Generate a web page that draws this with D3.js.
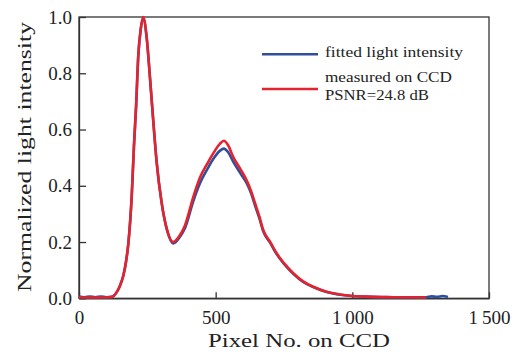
<!DOCTYPE html>
<html>
<head>
<meta charset="utf-8">
<script src="https://cdn.jsdelivr.net/npm/d3@7"></script>
<style>
html,body{margin:0;padding:0;background:#fff;}
svg text{font-family:"Liberation Serif","DejaVu Serif",serif;fill:#222;}
</style>
</head>
<body>
<svg id="chart" width="520" height="354"></svg>
<script>
// ---- data ----
const xTicks = [0, 500, 1000, 1500];
const xTickLabels = ["0", "500", "1\u2009000", "1\u2009500"];
const yTicks = [0, 0.2, 0.4, 0.6, 0.8, 1.0];
const yTickLabels = ["0.0", "0.2", "0.4", "0.6", "0.8", "1.0"];

const measuredX = [0, 40, 80, 110, 120, 138, 150, 162, 172, 180, 193, 201, 209, 217, 226, 235, 248, 260, 272, 284, 302, 321, 345, 369, 388, 418, 443, 470, 491, 516, 530, 545, 564, 590, 613, 630, 644, 660, 674, 700, 723, 750, 784, 820, 857, 900, 930, 991, 1050, 1150, 1270];
const measuredY = [0.004, 0.003, 0.003, 0.004, 0.005, 0.022, 0.045, 0.08, 0.13, 0.19, 0.366, 0.54, 0.686, 0.864, 0.958, 1.0, 0.923, 0.78, 0.627, 0.485, 0.342, 0.247, 0.2, 0.224, 0.26, 0.36, 0.43, 0.48, 0.515, 0.55, 0.56, 0.545, 0.503, 0.46, 0.42, 0.38, 0.338, 0.29, 0.243, 0.2, 0.16, 0.125, 0.089, 0.06, 0.041, 0.025, 0.018, 0.009, 0.006, 0.004, 0.003];

const fittedX = [0, 20, 40, 60, 80, 100, 120, 138, 150, 162, 172, 180, 193, 201, 209, 217, 226, 235, 248, 260, 272, 284, 302, 321, 345, 369, 388, 418, 443, 470, 491, 516, 530, 545, 564, 590, 613, 630, 644, 660, 674, 700, 723, 750, 784, 820, 857, 900, 930, 991, 1050, 1150, 1270, 1290, 1310, 1330, 1350];
const fittedY = [0.006, 0.004, 0.006, 0.004, 0.006, 0.004, 0.005, 0.022, 0.045, 0.08, 0.13, 0.19, 0.366, 0.54, 0.686, 0.864, 0.958, 0.995, 0.923, 0.78, 0.627, 0.485, 0.342, 0.247, 0.195, 0.218, 0.25, 0.345, 0.41, 0.46, 0.495, 0.525, 0.532, 0.52, 0.486, 0.445, 0.41, 0.372, 0.33, 0.284, 0.238, 0.196, 0.157, 0.122, 0.087, 0.058, 0.04, 0.024, 0.017, 0.009, 0.006, 0.004, 0.004, 0.007, 0.005, 0.008, 0.005];

const legendLabels = ["fitted light intensity", "measured on CCD", "PSNR=24.8 dB"];
const xTitle = "Pixel No. on CCD";
const yTitle = "Normalized light intensity";

// ---- layout ----
const svg = d3.select("#chart");
const L = 79, R = 489, T = 17, B = 298.3;
const x = d3.scaleLinear().domain([0, 1500]).range([L, R]);
const y = d3.scaleLinear().domain([0, 1]).range([B, T]);
const axisColor = "#333";
const blue = "#2f4f9e";
const red = "#e3242e";

// frame
svg.append("rect").attr("x", L).attr("y", T).attr("width", R - L).attr("height", B - T)
  .attr("fill", "none").attr("stroke", axisColor).attr("stroke-width", 1.3);

// x axis
const xAxis = d3.axisBottom(x).tickValues(xTicks).tickSizeInner(-6).tickSizeOuter(0)
  .tickPadding(12).tickFormat((d, i) => xTickLabels[i]);
const gx = svg.append("g").attr("transform", `translate(0,${B})`).call(xAxis);
gx.select(".domain").attr("stroke", axisColor).attr("stroke-width", 1.3);
gx.selectAll(".tick line").attr("stroke", axisColor).attr("stroke-width", 1.3);
gx.selectAll(".tick text").attr("font-size", 19).attr("font-family", "Liberation Serif").attr("fill", "#222");

// y axis
const yAxis = d3.axisLeft(y).tickValues(yTicks).tickSizeInner(-7).tickSizeOuter(0)
  .tickPadding(7).tickFormat((d, i) => yTickLabels[i]);
const gy = svg.append("g").attr("transform", `translate(${L},0)`).call(yAxis);
gy.select(".domain").attr("stroke", axisColor).attr("stroke-width", 1.3);
gy.selectAll(".tick line").attr("stroke", axisColor).attr("stroke-width", 1.3);
gy.selectAll(".tick text").attr("font-size", 19).attr("font-family", "Liberation Serif").attr("fill", "#222");

// titles
svg.append("text").attr("x", 299).attr("y", 347).attr("text-anchor", "middle")
  .attr("font-size", 19).attr("textLength", 182).attr("lengthAdjust", "spacingAndGlyphs").text(xTitle);
svg.append("text").attr("transform", "translate(31,157) rotate(-90)").attr("text-anchor", "middle")
  .attr("font-size", 19).attr("textLength", 270).attr("lengthAdjust", "spacingAndGlyphs").text(yTitle);

// curves
const line = d3.line().x(d => x(d[0])).y(d => y(d[1])).curve(d3.curveMonotoneX);
svg.append("path").datum(d3.zip(fittedX, fittedY)).attr("d", line)
  .attr("fill", "none").attr("stroke", blue).attr("stroke-width", 2.6).attr("stroke-linejoin", "round");
svg.append("path").datum(d3.zip(measuredX, measuredY)).attr("d", line)
  .attr("fill", "none").attr("stroke", red).attr("stroke-width", 2.6).attr("stroke-linejoin", "round");

// legend
svg.append("line").attr("x1", 262).attr("x2", 318).attr("y1", 54.3).attr("y2", 54.3)
  .attr("stroke", blue).attr("stroke-width", 2.4);
svg.append("line").attr("x1", 262).attr("x2", 318).attr("y1", 89).attr("y2", 89)
  .attr("stroke", red).attr("stroke-width", 2.4);
const legY = [57.3, 81.7, 100];
const legW = [138, 127, 104];
legendLabels.forEach((t, i) => {
  svg.append("text").attr("x", 325).attr("y", legY[i]).attr("font-size", 15)
    .attr("textLength", legW[i]).attr("lengthAdjust", "spacingAndGlyphs").text(t);
});
</script>
</body>
</html>
